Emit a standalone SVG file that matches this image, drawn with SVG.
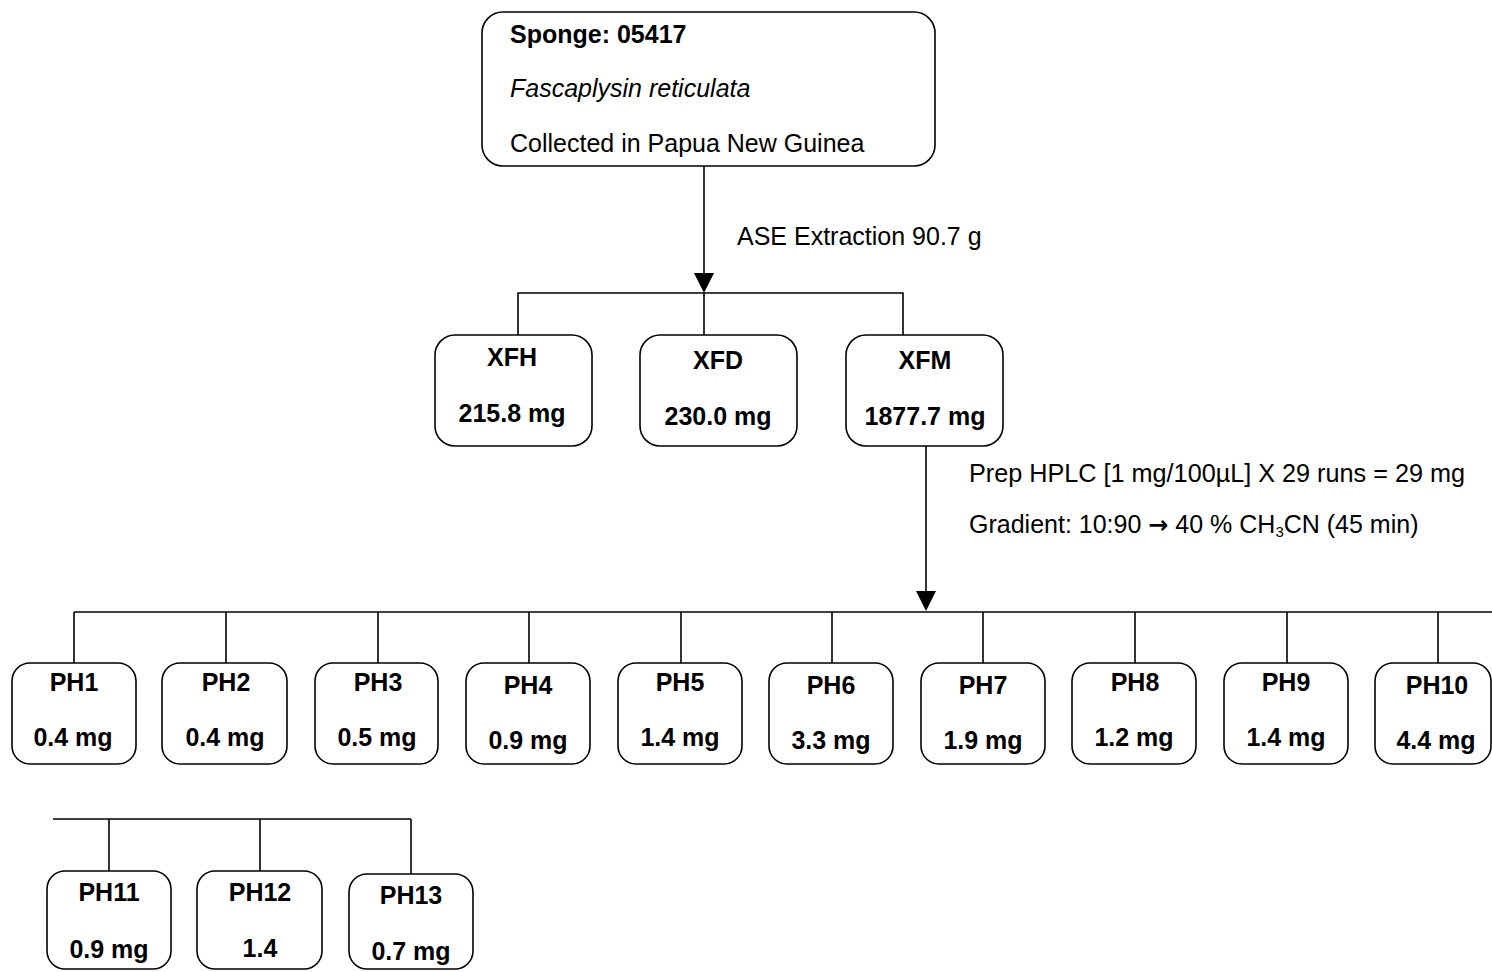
<svg xmlns="http://www.w3.org/2000/svg" width="1492" height="972" viewBox="0 0 1492 972">
  <style>
    .box { fill: #ffffff; stroke: #000000; stroke-width: 1.6; }
    .wire { fill: none; stroke: #000000; stroke-width: 1.6; }
    .head { fill: #000000; }
    text { font-family: "Liberation Sans", Arial, sans-serif; font-size: 25px; fill: #000000; }
    .b { font-weight: bold; text-anchor: middle; }
    .it { font-style: italic; }
    .sym { font-family: "DejaVu Sans", sans-serif; font-weight: bold; }
  </style>

  <!-- connectors and their labels -->
  <g id="connectors">
    <line class="wire" x1="704" y1="166" x2="704" y2="274"/>
    <path class="head" d="M694,273 L714,273 L704,293 Z"/>
    <polyline class="wire" points="518,335 518,293 903,293 903,335"/>
    <line class="wire" x1="704" y1="293" x2="704" y2="335"/>

    <line class="wire" x1="926" y1="446" x2="926" y2="592"/>
    <path class="head" d="M916,591 L936,591 L926,611 Z"/>
    <line class="wire" x1="74" y1="612" x2="1492" y2="612"/>
    <line class="wire" x1="74" y1="612" x2="74" y2="663"/>
    <line class="wire" x1="226" y1="612" x2="226" y2="663"/>
    <line class="wire" x1="378" y1="612" x2="378" y2="663"/>
    <line class="wire" x1="529" y1="612" x2="529" y2="663"/>
    <line class="wire" x1="681" y1="612" x2="681" y2="663"/>
    <line class="wire" x1="832" y1="612" x2="832" y2="663"/>
    <line class="wire" x1="983" y1="612" x2="983" y2="663"/>
    <line class="wire" x1="1135" y1="612" x2="1135" y2="663"/>
    <line class="wire" x1="1287" y1="612" x2="1287" y2="663"/>
    <line class="wire" x1="1438" y1="612" x2="1438" y2="663"/>

    <line class="wire" x1="53" y1="819" x2="411" y2="819"/>
    <line class="wire" x1="109" y1="819" x2="109" y2="871"/>
    <line class="wire" x1="260" y1="819" x2="260" y2="871"/>
    <line class="wire" x1="411" y1="819" x2="411" y2="874"/>

    <text x="737" y="245">ASE Extraction 90.7 g</text>
    <text x="969" y="482" textLength="496" lengthAdjust="spacingAndGlyphs">Prep HPLC [1 mg/100µL] X 29 runs = 29 mg</text>
    <text x="969" y="533">Gradient: 10:90 <tspan class="sym" font-size="24">→</tspan> 40 % CH<tspan font-size="15" dy="4">3</tspan><tspan dy="-4">CN (45 min)</tspan></text>
  </g>

  <g id="sponge">
    <rect class="box" x="482" y="12" width="453" height="154" rx="21"/>
    <text x="510" y="43" font-weight="bold">Sponge: 05417</text>
    <text x="510" y="97" class="it">Fascaplysin reticulata</text>
    <text x="510" y="152">Collected in Papua New Guinea</text>
  </g>

  <g id="XFH">
    <rect class="box" x="435" y="335" width="157" height="111" rx="20"/>
    <text x="512" y="366" class="b">XFH</text>
    <text x="512" y="422" class="b">215.8 mg</text>
  </g>
  <g id="XFD">
    <rect class="box" x="640" y="335" width="157" height="111" rx="20"/>
    <text x="718" y="369" class="b">XFD</text>
    <text x="718" y="425" class="b">230.0 mg</text>
  </g>
  <g id="XFM">
    <rect class="box" x="846" y="335" width="157" height="111" rx="20"/>
    <text x="925" y="369" class="b">XFM</text>
    <text x="925" y="425" class="b">1877.7 mg</text>
  </g>

  <g id="PH1"><rect class="box" x="12" y="663" width="124" height="101" rx="18"/><text x="74" y="691" class="b">PH1</text><text x="73" y="746" class="b">0.4 mg</text></g>
  <g id="PH2"><rect class="box" x="162" y="663" width="125" height="101" rx="18"/><text x="226" y="691" class="b">PH2</text><text x="225" y="746" class="b">0.4 mg</text></g>
  <g id="PH3"><rect class="box" x="315" y="663" width="123" height="101" rx="18"/><text x="378" y="691" class="b">PH3</text><text x="377" y="746" class="b">0.5 mg</text></g>
  <g id="PH4"><rect class="box" x="466" y="663" width="124" height="101" rx="18"/><text x="528" y="694" class="b">PH4</text><text x="528" y="749" class="b">0.9 mg</text></g>
  <g id="PH5"><rect class="box" x="618" y="663" width="124" height="101" rx="18"/><text x="680" y="691" class="b">PH5</text><text x="680" y="746" class="b">1.4 mg</text></g>
  <g id="PH6"><rect class="box" x="769" y="663" width="124" height="101" rx="18"/><text x="831" y="694" class="b">PH6</text><text x="831" y="749" class="b">3.3 mg</text></g>
  <g id="PH7"><rect class="box" x="921" y="663" width="124" height="101" rx="18"/><text x="983" y="694" class="b">PH7</text><text x="983" y="749" class="b">1.9 mg</text></g>
  <g id="PH8"><rect class="box" x="1072" y="663" width="124" height="101" rx="18"/><text x="1135" y="691" class="b">PH8</text><text x="1134" y="746" class="b">1.2 mg</text></g>
  <g id="PH9"><rect class="box" x="1224" y="663" width="124" height="101" rx="18"/><text x="1286" y="691" class="b">PH9</text><text x="1286" y="746" class="b">1.4 mg</text></g>
  <g id="PH10"><rect class="box" x="1375" y="663" width="116" height="101" rx="18"/><text x="1437" y="694" class="b">PH10</text><text x="1436" y="749" class="b">4.4 mg</text></g>

  <g id="PH11"><rect class="box" x="47" y="871" width="124" height="98" rx="18"/><text x="109" y="901" class="b">PH11</text><text x="109" y="958" class="b">0.9 mg</text></g>
  <g id="PH12"><rect class="box" x="197" y="871" width="125" height="98" rx="18"/><text x="260" y="901" class="b">PH12</text><text x="260" y="957" class="b">1.4</text></g>
  <g id="PH13"><rect class="box" x="349" y="874" width="124" height="95" rx="18"/><text x="411" y="904" class="b">PH13</text><text x="411" y="960" class="b">0.7 mg</text></g>
</svg>
